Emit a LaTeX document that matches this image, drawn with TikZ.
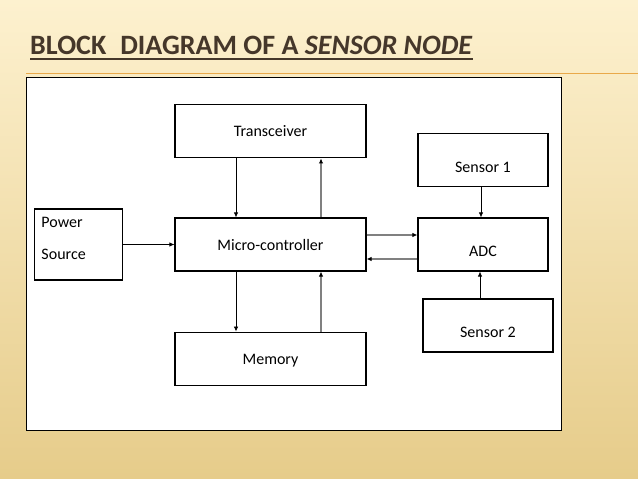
\documentclass[tikz,border=0pt]{standalone}
\usepackage{fontspec}
\setmainfont{Carlito}
\usetikzlibrary{arrows.meta,positioning}
\definecolor{ink}{HTML}{45372A}
\definecolor{bgtop}{HTML}{FDF1CF}
\definecolor{bgbot}{HTML}{E6CC8A}
\definecolor{rulecol}{HTML}{E9A94A}
\definecolor{link}{HTML}{808080}
\tikzset{
  block/.style={draw=black,line width=1.1pt,fill=white,align=center,
    minimum width=191pt,minimum height=53pt,inner sep=0pt,
    text height=14pt,text depth=3pt,font=\fontsize{16}{19}\selectfont},
  io/.style={block,minimum width=130pt,text height=27pt,text depth=3pt},
  source/.style={block,minimum width=88pt,minimum height=71pt,align=left,
    text width=74pt,text height=14pt,text depth=47.6pt},
  title/.style={inner sep=0pt,text=ink,text depth=5pt,
    font=\fontsize{28}{33}\selectfont\bfseries},
  arrow/.style={-{Latex[length=5pt,width=4.5pt]},draw=black,line width=0.8pt},
  back/.style={-{Latex[length=5pt,width=4.5pt,color=black]},draw=link,line width=1.3pt}
}
\begin{document}
\begin{tikzpicture}[x=1pt,y=-1pt,node distance=59pt]
  \useasboundingbox (0,0) rectangle (638,479);
  \shade[top color=bgtop,bottom color=bgbot] (0,0) rectangle (638,479);
  \draw[rulecol,line width=0.9pt] (26,73) -- (638,73);
  \draw[fill=white,line width=1pt] (26,77) rectangle (561,430);
  % title
  \node[title,anchor=base west] (title) at (30,54) {BLOCK\hspace{0.5em}DIAGRAM OF A \textit{SENSOR NODE}};
  \draw[ink,line width=2pt] (title.south west) -- (title.south east);
  % blocks
  \node[block] (mcu) at (270.5,244.5) {Micro-controller};
  \node[block,above=of mcu] (trx) {Transceiver};
  \node[block,below=60pt of mcu] (mem) {Memory};
  \node[source] (pwr) at (78.5,244.5) {Power\\[12.3pt]Source};
  \node[io] (adc) at (483,244.5) {ADC};
  \node[io,above=30pt of adc] (sen1) {Sensor 1};
  \node[io] (sen2) at (488,325.5) {Sensor 2};
  % links
  \draw[arrow] ([xshift=-34.5pt]trx.south) -- ([xshift=-34.5pt]mcu.north);
  \draw[back] ([xshift=50.5pt]mcu.north) -- ([xshift=50.5pt]trx.south);
  \draw[arrow] ([xshift=-34.5pt]mcu.south) -- ([xshift=-34.5pt]mem.north);
  \draw[back] ([xshift=50.5pt]mem.north) -- ([xshift=50.5pt]mcu.south);
  \draw[arrow] (pwr.east) -- (mcu.west);
  \draw[back] ([yshift=9.5pt]mcu.east) -- ([yshift=9.5pt]adc.west);
  \draw[back] ([yshift=-14.5pt]adc.west) -- ([yshift=-14.5pt]mcu.east);
  \draw[arrow] ([xshift=-2pt]sen1.south) -- ([xshift=-2pt]adc.north);
  \draw[arrow] ([xshift=-8pt]sen2.north) -- ([xshift=-3pt]adc.south);
\end{tikzpicture}
\end{document}
